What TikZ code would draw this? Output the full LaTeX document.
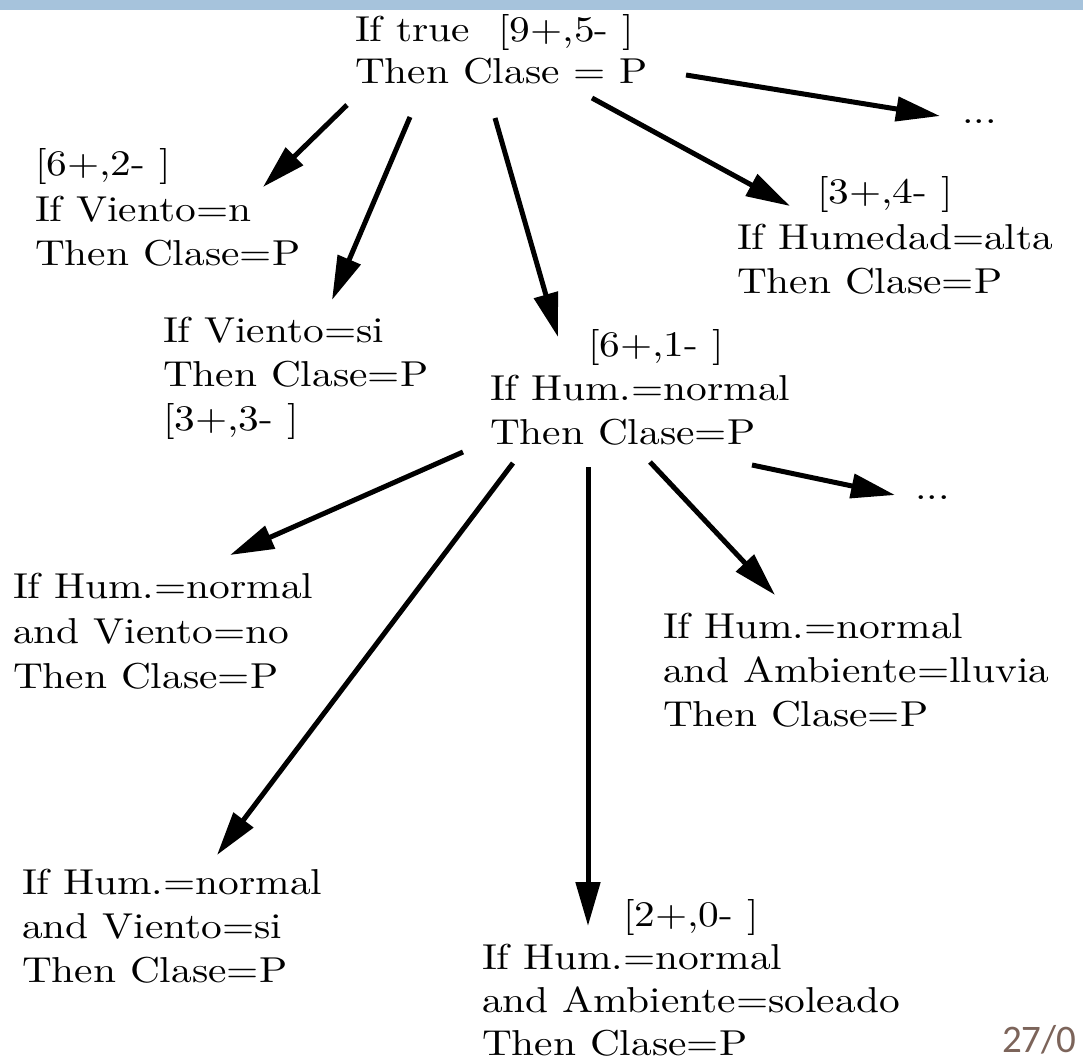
\documentclass[tikz,border=0pt]{standalone}
\usepackage{fontspec}
\setmainfont{lmroman10-regular}[Extension=.otf, FakeStretch=1.15]
\newfontfamily\datefont{Carlito}
\usetikzlibrary{arrows.meta,calc}
\definecolor{barblue}{RGB}{166,195,220}
\definecolor{datecol}{RGB}{124,100,90}
\newcommand\blk[1]{\begin{tabular}[t]{@{}l@{}}#1\end{tabular}}
\tikzset{
  lbl/.style={inner sep=0pt, outer sep=0pt, anchor=base west, font=\fontsize{36}{44}\selectfont},
  dots/.style={inner sep=0pt, outer sep=0pt, anchor=base west, font=\fontsize{36}{44}\selectfont},
  arr/.style={line width=5pt, -{Triangle[length=44pt,width=24pt]}},
}
\begin{document}
\begin{tikzpicture}[x=1pt,y=-1pt]
\useasboundingbox (0,0) rectangle (1083,1061);
\fill[barblue] (0,0) rectangle (1083,10);

\node[lbl] (root) at (355,41) {\blk{If true\hspace{28pt}[9+,5- ]\\[-2pt] Then Clase = P}};
\node[lbl] (n62) at (35,175) {\blk{[6+,2- ]\\[2pt] If Viento=n\\ Then Clase=P}};
\node[lbl] (nvsi) at (163,342) {\blk{If Viento=si\\ Then Clase=P\\ \relax{[}3+,3- ]}};
\node[lbl] (n61) at (490,356) {\blk{\hspace*{98pt}[6+,1- ]\\ If Hum.=normal\\ Then Clase=P}};
\node[lbl] (n34) at (737,203) {\blk{\hspace*{80pt}[3+,4- ]\\[2pt] If Humedad=alta\\ Then Clase=P}};
\node[dots] (dots1) at (962,123) {...};
\node[dots] (dots2) at (915,499) {...};
\node[lbl] (nvno) at (13,598) {\blk{If Hum.=normal\\[1pt] and Viento=no\\[1pt] Then Clase=P}};
\node[lbl] (nll) at (663,638) {\blk{If Hum.=normal\\ and Ambiente=lluvia\\ Then Clase=P}};
\node[lbl] (nvsi2) at (22,894) {\blk{If Hum.=normal\\ and Viento=si\\ Then Clase=P}};
\node[lbl] (nsol) at (482,926) {\blk{\hspace*{141pt}[2+,0- ]\\[-1pt] If Hum.=normal\\[-1pt] and Ambiente=soleado\\[-1pt] Then Clase=P}};

\draw[arr] ([shift={(-8,64)}]root.base west) -- ([shift={(228,12)}]n62.base west);
\draw[arr] ([shift={(55,76)}]root.base west) -- ([shift={(169,-42)}]nvsi.base west);
\draw[arr] ([shift={(140,77)}]root.base west) -- ([shift={(68,-19)}]n61.base west);
\draw[arr] ([shift={(237,57)}]root.base west) -- ([shift={(53,3)}]n34.base west);
\draw[arr] ([shift={(331,34)}]root.base west) -- ([shift={(-22,-7)}]dots1.base west);

\draw[arr] ([shift={(-27,96)}]n61.base west) -- ([shift={(217,-43)}]nvno.base west);
\draw[arr] ([shift={(23,107)}]n61.base west) -- ([shift={(195,-39)}]nvsi2.base west);
\draw[arr] ([shift={(98,111)}]n61.base west) -- ([shift={(106,0)}]nsol.base west);
\draw[arr] ([shift={(160,106)}]n61.base west) -- ([shift={(112,-43)}]nll.base west);
\draw[arr] ([shift={(262,109)}]n61.base west) -- ([shift={(-20,-4)}]dots2.base west);

\node[inner sep=0pt, anchor=base west, font=\datefont\fontsize{39}{41}\selectfont, text=datecol] (date) at (1002,1052) {27/0};
\end{tikzpicture}
\end{document}
